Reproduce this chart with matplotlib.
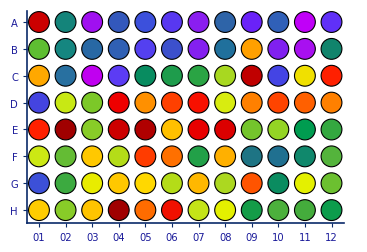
import matplotlib

matplotlib.use("Agg")
import matplotlib.pyplot as plt

# Plate layout
rows = ["A", "B", "C", "D", "E", "F", "G", "H"]
cols = ["01", "02", "03", "04", "05", "06", "07", "08", "09", "10", "11", "12"]

# Well colours, one list per row
row_a = ["#CC0000", "#14847A", "#A010F0", "#3358BC", "#3C50DC", "#5838F0",
         "#8A1EF0", "#2E64A8", "#6A22F8", "#3060B8", "#C000F8", "#6030F8"]
row_b = ["#5EBE32", "#158680", "#2868A4", "#3060B4", "#5440F0", "#3C50CC",
         "#8420F0", "#20709C", "#FFA000", "#8020F0", "#A810F0", "#10846C"]
row_c = ["#FFA800", "#2870A0", "#C000F0", "#5C3CF4", "#088C60", "#1E9C4C",
         "#2AA444", "#A8D820", "#C00000", "#4444E4", "#F0E000", "#FF2000"]
row_d = ["#4444E0", "#C8E814", "#7CC828", "#EE0000", "#FF9000", "#FF4000",
         "#F81000", "#D8EC10", "#FF8000", "#FF4400", "#FF6000", "#FF8000"]
row_e = ["#FF2000", "#A00000", "#88CC28", "#CC0000", "#B00000", "#FFC000",
         "#E80000", "#DC0000", "#74C42C", "#94D424", "#009C50", "#34A840"]
row_f = ["#CCE814", "#64BC34", "#FFC800", "#B4DC18", "#FF3C00", "#FF7000",
         "#22A048", "#FFB000", "#1E7484", "#207090", "#10886C", "#54B43C"]
row_g = ["#3C50D8", "#3CAA40", "#E8EC00", "#FFC800", "#FFD800", "#B4DC18",
         "#FFB800", "#ACD820", "#FF5400", "#0A8C60", "#E4F000", "#6CC030"]
row_h = ["#FFCC00", "#88CC28", "#FFC400", "#A00000", "#FF6C00", "#F01000",
         "#C4E418", "#E4F000", "#149C48", "#4CB03C", "#44AC3C", "#0C9C4C"]
well_colors = [row_a, row_b, row_c, row_d, row_e, row_f, row_g, row_h]

axis_color = "#0a2a6a"
label_color = "#1a1a9a"

fig = plt.figure(figsize=(3.67, 2.53), dpi=100)
ax = fig.add_axes([27 / 367, 29 / 253, 317 / 367, 212 / 253])

for r, row_cols in enumerate(well_colors):
    xs = list(range(1, len(cols) + 1))
    ys = [r + 1] * len(cols)
    ax.scatter(xs, ys, s=225, c=row_cols, edgecolors="black", linewidths=0.8, zorder=3)

ax.set_xlim(0.55, 12.47)
ax.set_ylim(8.48, 0.59)
ax.set_xticks(range(1, len(cols) + 1))
ax.set_xticklabels(cols)
ax.set_yticks(range(1, len(rows) + 1))
ax.set_yticklabels(rows)

for side in ["top", "right"]:
    ax.spines[side].set_visible(False)
for side in ["left", "bottom"]:
    ax.spines[side].set_color(axis_color)
    ax.spines[side].set_linewidth(1.2)
ax.tick_params(colors=axis_color, labelcolor=label_color, labelsize=7.2,
               length=3, width=0.8, pad=3.5)
for lbl in ax.get_xticklabels() + ax.get_yticklabels():
    lbl.set_family(["Verdana", "DejaVu Sans"])

fig.savefig("out.png", dpi=100)
